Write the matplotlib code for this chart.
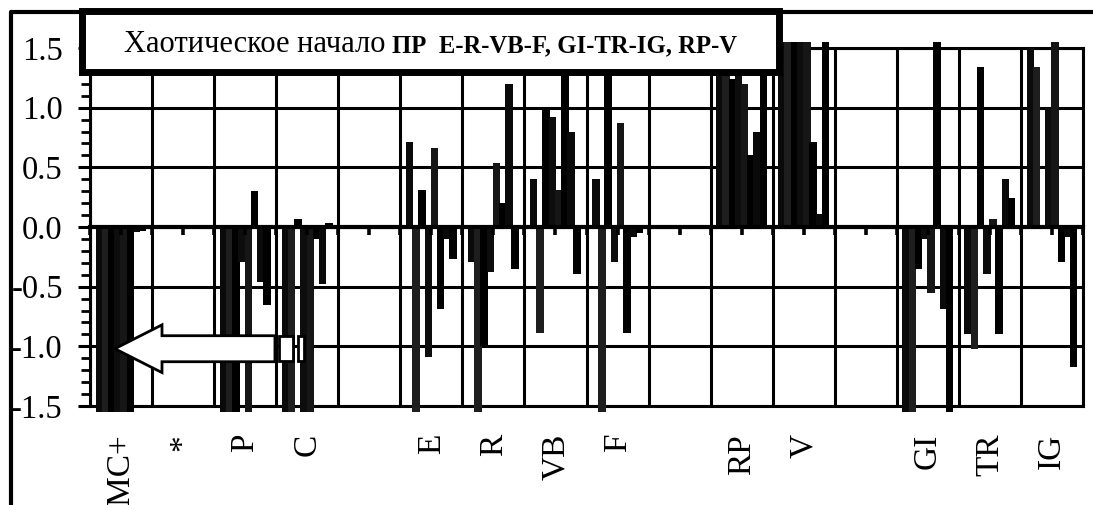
import numpy as np
import matplotlib
matplotlib.use('Agg')
import matplotlib.pyplot as plt
from matplotlib.patches import Rectangle, FancyArrow
from matplotlib.lines import Line2D
from matplotlib.ticker import MultipleLocator

plt.rcParams['font.family'] = ['Liberation Serif', 'DejaVu Serif']
plt.rcParams['axes.unicode_minus'] = False

# подписи групп (пустые - промежутки)
categories = ['MC+', '*', 'P', 'C', '', 'E', 'R', 'VB', 'F', '', 'RP', 'V', '', 'GI', 'TR', 'IG']

# 10 столбиков в каждой группе; всё, что за +-1.5, обрезается рамкой
bar_vals = [
    [0, -1.6, -1.6, -1.6, -1.6, -1.6, -1.6, -0.04, -0.03, 0],      # MC+
    [0, 0, 0, 0, 0, 0, 0, 0, 0, 0],                                 # *
    [0, -1.6, -1.6, -1.6, -0.29, -1.6, 0.30, -0.46, -0.65, 0],      # P
    [0, -1.6, -1.6, 0.07, -1.6, -1.6, -0.10, -0.48, 0.03, 0],       # C
    [0, 0, 0, 0, 0, 0, 0, 0, 0, 0],
    [0, 0.71, -1.6, 0.31, -1.09, 0.66, -0.69, -0.10, -0.27, 0],     # E
    [0, -0.29, -1.6, -1.00, -0.38, 0.54, 0.20, 1.20, -0.35, 0],     # R
    [0, 0.40, -0.89, 0.99, 0.92, 0.31, 1.6, 0.80, -0.39, 0],        # VB
    [0, 0.40, -1.6, 1.6, -0.29, 0.87, -0.89, -0.08, -0.05, 0],      # F
    [0, 0, 0, 0, 0, 0, 0, 0, 0, 0],
    [0, 1.6, 1.6, 1.24, 1.40, 1.20, 0.60, 0.80, 1.6, 0],            # RP
    [0, 1.6, 1.6, 1.6, 1.6, 1.6, 0.71, 0.11, 1.6, 0],               # V
    [0, 0, 0, 0, 0, 0, 0, 0, 0, 0],
    [0, -1.6, -1.6, -0.35, -0.10, -0.55, 1.6, -0.69, -1.6, 0],      # GI
    [0, -0.90, -1.02, 1.34, -0.39, 0.07, -0.90, 0.40, 0.24, 0],     # TR
    [0, 1.50, 1.34, 0, 1.00, 1.6, -0.29, -0.08, -1.17, 0],          # IG
]

slot_colors = ['#000000', '#0a0a0a', '#1e1e1e', '#000000', '#0d0d0d',
               '#161616', '#000000', '#0a0a0a', '#000000', '#000000']

title_regular = 'Хаотическое начало'
title_bold = 'ПР  E-R-VB-F, GI-TR-IG, RP-V'

W, H = 1093, 505
fig = plt.figure(figsize=(W / 100, H / 100), dpi=100)
ax = fig.add_axes([90 / W, 1 - 406 / H, (1083 - 90) / W, (406 - 48) / H])

n_slots = 10
slot_w = 1.0 / n_slots
for g, vals in enumerate(bar_vals):
    xs = g + slot_w * (np.arange(n_slots) + 0.5)
    ax.bar(xs, np.clip(vals, -1.55, 1.55), width=slot_w * 1.2, color=slot_colors,
           linewidth=0, zorder=3, clip_on=False)

ax.set_xlim(0, len(categories))
ax.set_ylim(-1.5, 1.5)

ax.set_yticks(np.arange(-1.5, 1.51, 0.5))
ax.set_yticklabels(['%.1f' % v for v in np.arange(-1.5, 1.51, 0.5)])
ax.yaxis.set_minor_locator(MultipleLocator(0.1))
ax.tick_params(axis='y', which='major', length=8.6, width=2.2, pad=11, labelsize=23.5, color='black')
ax.tick_params(axis='y', which='minor', length=6.5, width=2.0)

ax.set_xticks(np.arange(len(categories)) + 0.5)
ax.set_xticklabels(categories, rotation=90)
ax.set_xticks(np.arange(len(categories) + 1), minor=True)
ax.tick_params(axis='x', which='both', length=0, pad=20, labelsize=24)

ax.grid(True, which='major', axis='y', color='black', lw=2.2, zorder=1)
ax.grid(True, which='minor', axis='x', color='black', lw=2.2, zorder=1)
ax.set_axisbelow(True)
for s in ax.spines.values():
    s.set_linewidth(2.2)
    s.set_color('black')

# ось X по нулю с мелкими рисками
sec = ax.secondary_xaxis(0.5)
sec.set_xticks(np.arange(0, len(categories) + 0.01, 0.5))
sec.tick_params(axis='x', direction='in', length=6, width=2.6, labeltop=False, labelbottom=False)
sec.spines['top'].set_linewidth(3)
sec.set_zorder(4)

# стрелка
arrow = FancyArrow(2.98, -1.02, -2.58, 0, width=0.218, head_width=0.40, head_length=0.76,
                   length_includes_head=True, fc='white', ec='black', lw=2, zorder=6, clip_on=False)
ax.add_patch(arrow)
ax.add_patch(Rectangle((3.05, -1.125), 0.22, 0.21, fc='white', ec='black', lw=2, zorder=6))
ax.add_patch(Rectangle((3.35, -1.125), 0.10, 0.21, fc='white', ec='black', lw=2, zorder=6))

# рамка рисунка
fig.add_artist(Line2D([10.5 / W, 10.5 / W, 1.0], [0.0, 1 - 11.5 / H, 1 - 11.5 / H],
                      transform=fig.transFigure, color='black', lw=3, zorder=9))

# заголовок в рамке
fig.add_artist(Rectangle((81.5 / W, 1 - 71.5 / H), (778.5 - 81.5) / W, 61 / H,
                         transform=fig.transFigure, fc='white', ec='black', lw=5, zorder=10))
fig.text(386 / W, 1 - 52 / H, title_regular, ha='right', va='baseline', fontsize=22, zorder=11)
fig.text(392 / W, 1 - 52 / H, title_bold, ha='left', va='baseline', fontsize=17.8,
         fontweight='bold', zorder=11)

fig.savefig('out.png', dpi=100)
